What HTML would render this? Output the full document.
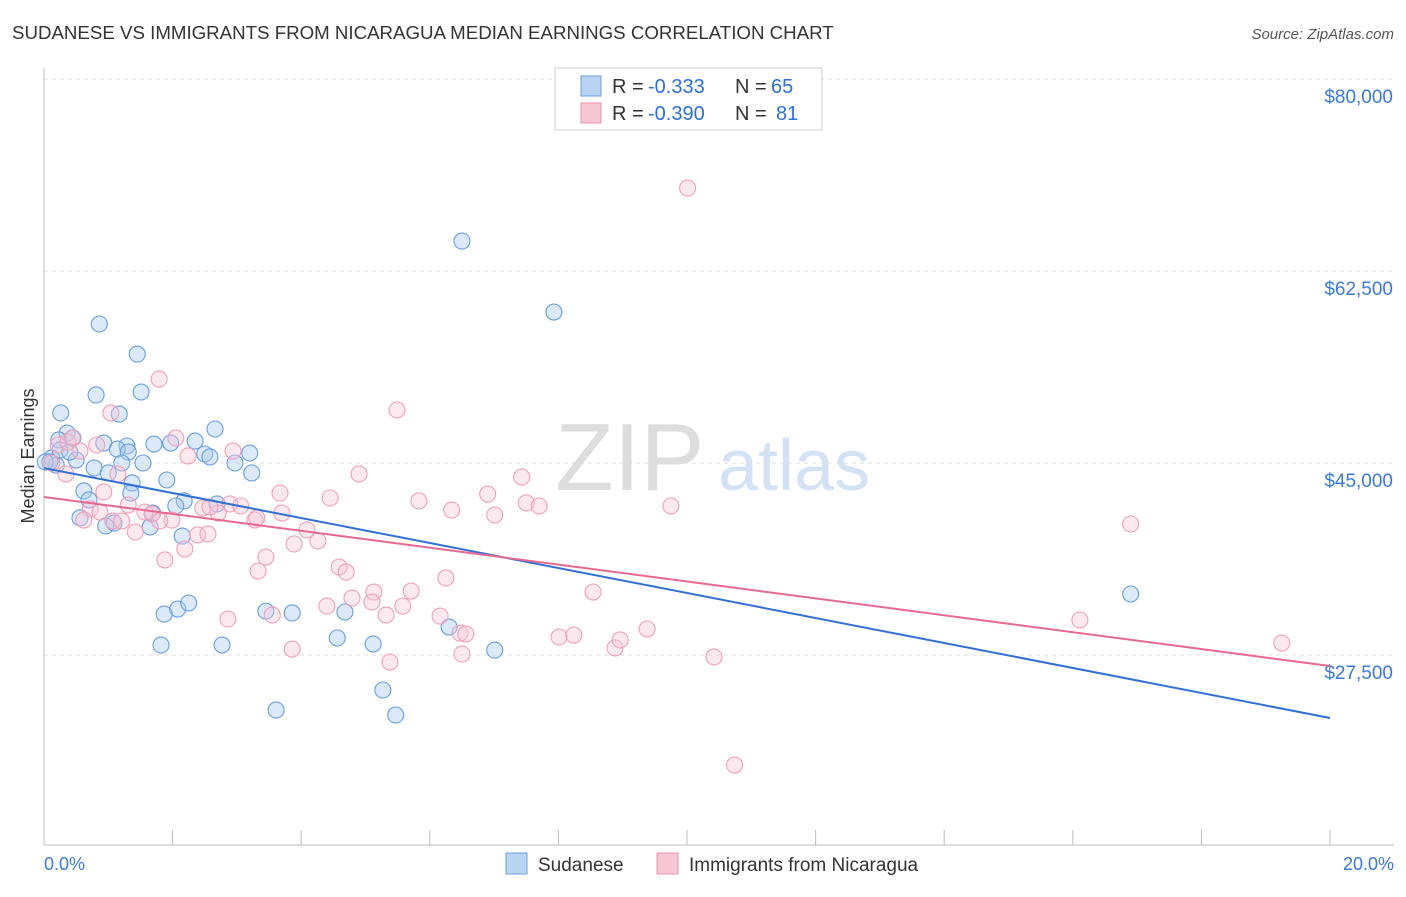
<!DOCTYPE html>
<html><head><meta charset="utf-8"><style>
body{margin:0;background:#fff;font-family:"Liberation Sans",sans-serif;}
svg text{font-family:"Liberation Sans",sans-serif;}
</style></head><body>
<svg id="chart" width="1406" height="892">
<text x="12" y="39" font-size="18.7" fill="#333">SUDANESE VS IMMIGRANTS FROM NICARAGUA MEDIAN EARNINGS CORRELATION CHART</text>
<text x="1394" y="39" font-size="15" fill="#555" font-style="italic" text-anchor="end">Source: ZipAtlas.com</text>
<text x="34" y="456" font-size="18" fill="#333" text-anchor="middle" transform="rotate(-90 34 456)">Median Earnings</text>
<g><text x="555" y="490" font-size="96" fill="#ddd" font-family="Liberation Serif">ZIP</text><text x="718" y="490" font-size="72" fill="#d2e2f4">atlas</text></g>
<g id="grid"></g><g id="axes"></g><g id="pts"></g><g id="trends"></g>
<g>
<rect x="555" y="68" width="267" height="62" fill="#fff" stroke="#ccc"/>
<rect x="581" y="76" width="20" height="20" fill="#b9d3f3" stroke="#6a9de0"/>
<rect x="581" y="103" width="20" height="20" fill="#f7c6d4" stroke="#e891ab"/>
<text x="612" y="93" font-size="20" fill="#333">R =</text><text x="648" y="93" font-size="20" fill="#2f6fd6">-0.333</text>
<text x="735" y="93" font-size="20" fill="#333">N =</text><text x="771" y="93" font-size="20" fill="#2f6fd6">65</text>
<text x="612" y="120" font-size="20" fill="#333">R =</text><text x="648" y="120" font-size="20" fill="#2f6fd6">-0.390</text>
<text x="735" y="120" font-size="20" fill="#333">N =</text><text x="776" y="120" font-size="20" fill="#2f6fd6">81</text>
</g>
<g>
<rect x="506" y="853" width="21" height="21" fill="#b9d3f3" stroke="#6a9de0"/>
<text x="538" y="871" font-size="19" fill="#333">Sudanese</text>
<rect x="657" y="853" width="21" height="21" fill="#f7c6d4" stroke="#e891ab"/>
<text x="689" y="871" font-size="19" fill="#333">Immigrants from Nicaragua</text>
</g>
<text x="44" y="870" font-size="18" fill="#3b78d8">0.0%</text>
<text x="1394" y="870" font-size="18" fill="#3b78d8" text-anchor="end">20.0%</text>
</svg>
<script>
const yTicks=[80000,62500,45000,27500];
const yTickLabels=["$80,000","$62,500","$45,000","$27,500"];
const sudX=[0.86,1.45,0.81,1.51,0.26,1.17,0.36,0.93,1.29,1.71,1.97,2.35,2.66,3.20,0.23,0.45,1.14,1.31,1.54,1.21,0.78,1.0,1.91,2.50,2.58,2.97,3.23,0.12,0.19,0.09,0.62,1.37,0.70,1.35,2.18,2.05,2.69,0.56,0.96,1.09,1.65,1.69,2.15,1.87,2.08,2.25,1.82,2.77,3.45,3.86,4.56,4.68,5.12,5.27,3.61,5.47,6.30,7.01,6.50,7.93,16.90,0.50,0.25,0.02,0.40];
const sudY=[57.67,54.93,51.2,51.47,49.56,49.46,47.73,46.82,46.55,46.73,46.82,47.0,48.1,45.91,47.1,47.28,46.27,46.0,45.0,45.0,44.54,44.09,43.45,45.82,45.55,45.0,44.09,45.45,44.8,45.1,42.45,43.18,41.63,42.26,41.54,41.08,41.27,40.0,39.26,39.53,39.17,40.44,38.34,31.23,31.69,32.24,28.41,28.41,31.5,31.33,29.05,31.42,28.5,24.31,22.48,22.03,30.05,27.95,65.23,58.76,33.06,45.27,46.18,45.1,46.0];
const nicX=[1.79,5.49,10.01,1.04,2.94,2.05,2.24,0.22,0.37,0.44,0.12,0.34,0.82,0.56,1.15,0.93,0.72,0.62,1.07,0.87,1.31,1.21,1.42,1.57,1.68,1.99,1.80,1.88,2.19,2.39,2.55,2.47,2.89,2.71,3.06,3.28,3.31,3.67,3.70,3.33,3.45,3.89,4.09,4.26,4.45,4.90,4.59,4.70,3.55,3.86,4.40,4.79,5.13,5.10,5.32,5.58,5.71,5.38,5.83,6.25,6.34,6.16,6.47,6.56,6.50,6.90,7.01,7.43,7.50,7.70,8.54,8.01,8.24,8.88,8.96,9.38,9.75,10.42,10.74,16.11,16.90,19.25,2.86,2.58];
const nicY=[52.65,49.83,70.06,49.56,46.09,47.28,45.64,46.64,46.91,47.28,45.0,44.0,46.64,46.09,44.0,42.36,40.81,39.8,39.71,40.53,41.17,39.71,38.71,40.53,40.35,39.8,39.71,36.16,37.16,38.44,38.53,40.9,41.27,40.44,41.08,39.8,39.99,42.26,40.44,35.15,36.43,37.62,38.9,37.89,41.81,44.0,35.52,35.06,31.14,28.04,31.96,32.69,33.24,32.33,31.14,31.96,33.33,26.86,41.54,34.52,40.71,31.05,29.5,29.41,27.59,42.17,40.26,43.72,41.36,41.08,33.24,29.14,29.32,28.14,28.87,29.87,41.08,27.32,17.47,30.69,39.44,28.59,30.78,40.99];
const sudTrend=[44.54,21.76];
const nicTrend=[41.9,26.5];
const trendX=[0,20];
const NS="http://www.w3.org/2000/svg";
const xS=v=>44+v*64.3;
const yS=v=>79+(80000-v)*192/17500;
const yK=v=>yS(v*1000);
function mk(tag,attrs,parent){const e=document.createElementNS(NS,tag);for(const k in attrs)e.setAttribute(k,attrs[k]);document.getElementById(parent).appendChild(e);return e;}
yTicks.forEach((t,i)=>{
 const l=mk('line',{x1:44,x2:1394,y1:yS(t),y2:yS(t),stroke:'#ddd','stroke-dasharray':'4,4'},'grid');
 
 
 const tx=mk('text',{x:1393,y:yS(t)+24,'font-size':19,fill:'#3b78d8','text-anchor':'end'},'grid');
 tx.textContent=yTickLabels[i];
 
 
});
const ax=mk('line',{x1:44,x2:44,y1:68,y2:845,stroke:'#bbb'},'axes');


const bx=mk('line',{x1:44,x2:1394,y1:845,y2:845,stroke:'#bbb'},'axes');


for(let p=2;p<=20;p+=2){
 const t=mk('line',{x1:xS(p),x2:xS(p),y1:830,y2:845,stroke:'#bbb'},'axes');
 
 
}
sudX.forEach((x,i)=>{
 const c=mk('circle',{cx:xS(x),cy:yK(sudY[i]),r:8,fill:'rgba(170,202,242,0.42)',stroke:'#6a9de0','stroke-width':1.1},'pts');
 
 
});
nicX.forEach((x,i)=>{
 const c=mk('circle',{cx:xS(x),cy:yK(nicY[i]),r:8,fill:'rgba(248,196,212,0.38)',stroke:'#eea0b8','stroke-width':1.1},'pts');
 
 
});
const t1=mk('line',{x1:xS(trendX[0]),y1:yK(sudTrend[0]),x2:xS(trendX[1]),y2:yK(sudTrend[1]),stroke:'#2f6fd6','stroke-width':2},'trends');


const t2=mk('line',{x1:xS(trendX[0]),y1:yK(nicTrend[0]),x2:xS(trendX[1]),y2:yK(nicTrend[1]),stroke:'#e8688f','stroke-width':2},'trends');


</script>
</body></html>
